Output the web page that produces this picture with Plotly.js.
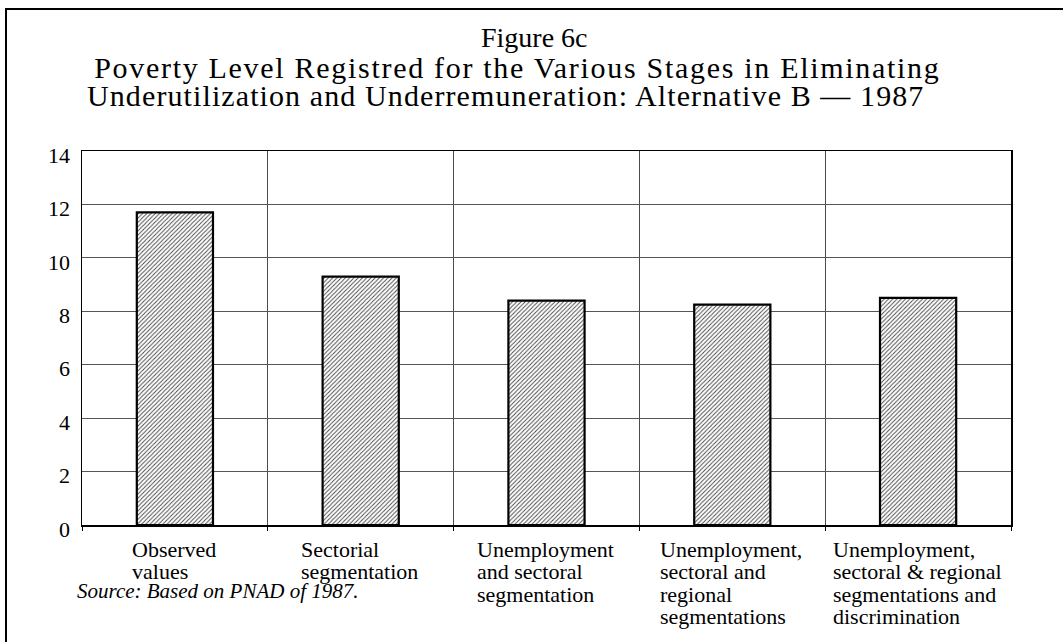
<!DOCTYPE html>
<html>
<head>
<meta charset="utf-8">
<script src="https://cdn.plot.ly/plotly-3.0.1.min.js"></script>
<style>html,body{margin:0;padding:0;background:#fff;}#chart{width:1063px;height:642px;}</style>
</head>
<body>
<div id="chart"></div>
<script>
// Data
var categories = [
  "Observed values",
  "Sectorial segmentation",
  "Unemployment and sectoral segmentation",
  "Unemployment, sectoral and regional segmentations",
  "Unemployment, sectoral & regional segmentations and discrimination"
];
var categoryLabelLines = [
  ["Observed", "values"],
  ["Sectorial", "segmentation"],
  ["Unemployment", "and sectoral", "segmentation"],
  ["Unemployment,", "sectoral and", "regional", "segmentations"],
  ["Unemployment,", "sectoral & regional", "segmentations and", "discrimination"]
];
var povertyLevel = [11.7, 9.3, 8.4, 8.25, 8.5];
var yTickValues = [0, 2, 4, 6, 8, 10, 12, 14];
var titleLines = [
  "Figure 6c",
  "Poverty Level Registred for the Various Stages in Eliminating",
  "Underutilization and Underremuneration: Alternative B \u2014 1987"
];
var sourceNote = "Source: Based on PNAD of 1987.";

var serifName = "Liberation Serif";
var serif = "'Liberation Serif', 'Times New Roman', serif";

// geometry helpers (page pixels -> paper fractions)
var W = 1063, H = 642, mL = 82, mR = 52, mT = 151, mB = 117;
var plotW = W - mL - mR, plotH = H - mT - mB;
function px(x) { return (x - mL) / plotW; }
function py(y) { return (H - mB - y) / plotH; }

var ctx = document.createElement("canvas").getContext("2d");
function textWidth(t, size) {
  ctx.font = size + "px '" + serifName + "'";
  return ctx.measureText(t).width;
}

var trace = {
  type: "bar",
  x: categories,
  y: povertyLevel,
  width: 0.41,
  marker: {
    color: "#ffffff",
    line: {color: "#000000", width: 2.2},
    pattern: {shape: "/", size: 3, solidity: 0.3, fgcolor: "#444444", bgcolor: "#ffffff"}
  },
  hoverinfo: "skip"
};

var annotations = [];
var labelSize = 22, labelLineGap = 22.5, labelFirstY = 549;
categories.forEach(function (c, i) {
  var lines = categoryLabelLines[i];
  var blockW = Math.max.apply(null, lines.map(function (l) { return textWidth(l, labelSize); }));
  lines.forEach(function (l, j) {
    annotations.push({
      x: c, xref: "x", xanchor: "left", xshift: -blockW / 2 - 2,
      y: py(labelFirstY + j * labelLineGap), yref: "paper", yanchor: "middle",
      text: l, showarrow: false, borderpad: 0,
      font: {family: serif, size: labelSize, color: "#000"}
    });
  });
});

var titleCenters = [534, 517, 505];
var titleYs = [38, 67, 95];
var titleSizes = [28, 30, 30];
var titleSpacing = [0, 1.7, 1.1];
var titleIndexStart = annotations.length;
titleLines.forEach(function (t, i) {
  annotations.push({
    x: px(titleCenters[i]), xref: "paper", xanchor: "center",
    y: py(titleYs[i]), yref: "paper", yanchor: "middle",
    text: t, showarrow: false, borderpad: 0,
    font: {family: serif, size: titleSizes[i], color: "#000"}
  });
});

annotations.push({
  x: px(76), xref: "paper", xanchor: "left",
  y: py(591), yref: "paper", yanchor: "middle",
  text: "<i>" + sourceNote + "</i>", showarrow: false, borderpad: 0,
  font: {family: serif, size: 21, color: "#000"}
});

var layout = {
  width: W, height: H,
  margin: {l: mL, r: mR, t: mT, b: mB},
  paper_bgcolor: "#ffffff",
  plot_bgcolor: "#ffffff",
  showlegend: false,
  xaxis: {
    type: "category",
    tickson: "boundaries",
    showticklabels: false,
    ticks: "outside", ticklen: 4, tickcolor: "#000", tickwidth: 1,
    showgrid: true, gridcolor: "#4a4a4a", gridwidth: 1,
    showline: true, linecolor: "#000", linewidth: 1.5, mirror: true,
    zeroline: false, fixedrange: true
  },
  yaxis: {
    range: [0, 14],
    tickvals: yTickValues,
    ticktext: yTickValues.map(String),
    ticks: "", ticklabelstandoff: 6, ticklabelshift: 4,
    showgrid: true, gridcolor: "#555555", gridwidth: 1,
    showline: true, linecolor: "#000", linewidth: 1.5, mirror: true,
    zeroline: false, fixedrange: true,
    tickfont: {family: serif, size: 22, color: "#000"}
  },
  annotations: annotations,
  shapes: [{
    type: "rect", xref: "paper", yref: "paper",
    x0: px(6), x1: px(1075), y0: py(660), y1: py(9),
    line: {color: "#000", width: 2}, layer: "above"
  }]
};

Plotly.newPlot("chart", [trace], layout, {displayModeBar: false, staticPlot: true}).then(function (gd) {
  // widen the title lines slightly, as in the original typesetting
  titleSpacing.forEach(function (s, i) {
    if (!s) return;
    var el = gd.querySelector('.annotation[data-index="' + (titleIndexStart + i) + '"] text');
    if (el) el.style.letterSpacing = s + "px";
  });
});
</script>
</body>
</html>
